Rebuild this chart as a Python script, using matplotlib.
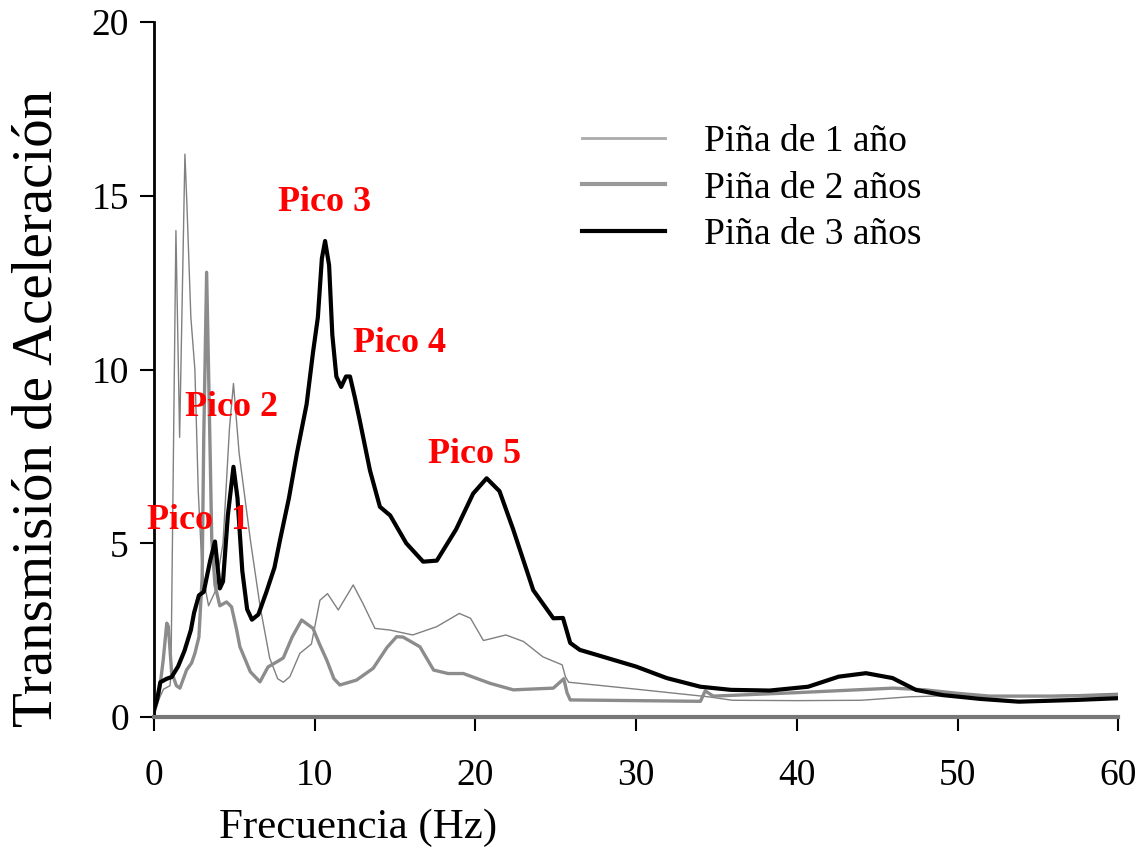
import matplotlib
matplotlib.use("Agg")
import matplotlib.pyplot as plt

plt.rcParams['font.family'] = ['Liberation Serif', 'DejaVu Serif']

# Piña de 1 año (thin line)
f1 = [0, 0.3, 0.6, 1.0, 1.06, 1.37, 1.6, 1.93, 2.05, 2.3, 2.55, 2.76, 3.0, 3.4,
      3.8, 4.3, 4.7, 4.95, 5.3, 6.0, 6.6, 7.2, 7.7, 8.05, 8.46, 9.08, 9.8, 10.33,
      10.8, 11.47, 12.4, 13.0, 13.75, 14.7, 16.1, 17.6, 19.0, 19.7, 20.5, 21.9,
      23.0, 24.2, 25.4, 25.6, 25.8, 30, 34.5, 36, 40, 44, 47, 50, 55, 60]
v1 = [0.1, 0.5, 0.8, 0.9, 1.2, 14.0, 8.05, 16.2, 14.8, 11.5, 10.0, 6.5, 4.2, 3.2,
      3.6, 5.0, 8.3, 9.6, 7.6, 5.1, 3.2, 1.7, 1.1, 1.0, 1.16, 1.83, 2.1, 3.36,
      3.55, 3.08, 3.8, 3.27, 2.55, 2.5, 2.36, 2.6, 2.98, 2.84, 2.2, 2.36,
      2.17, 1.73, 1.5, 1.16, 1.0, 0.8, 0.58, 0.48, 0.47, 0.48, 0.58, 0.62, 0.6, 0.68]

# Piña de 2 años (medium line)
f2 = [0, 0.3, 0.58, 0.8, 0.9, 1.1, 1.4, 1.62, 2.03, 2.34, 2.55, 2.8, 3.0, 3.1,
      3.28, 3.4, 3.6, 3.8, 4.1, 4.52, 4.83, 5.15, 5.35, 6.0, 6.6, 7.1, 7.7, 8.05,
      8.6, 9.19, 9.9, 10.3, 10.75, 11.2, 11.57, 12.6, 13.64, 14.5, 15.1, 15.5,
      16.55, 17.4, 18.3, 19.25, 20.9, 22.36, 24.85, 25.5, 25.7, 25.9, 30, 34.0,
      34.3, 34.8, 40, 46, 48, 50, 52, 56, 60]
v2 = [0.1, 0.6, 1.64, 2.7, 2.6, 1.3, 0.9, 0.83, 1.35, 1.55, 1.83, 2.3, 4.0, 8.0,
      12.8, 10.0, 5.1, 3.8, 3.2, 3.31, 3.17, 2.5, 2.02, 1.3, 1.01, 1.44, 1.6, 1.7,
      2.3, 2.79, 2.55, 2.1, 1.64, 1.1, 0.92, 1.06, 1.4, 2.0, 2.31, 2.3,
      2.02, 1.35, 1.25, 1.25, 0.97, 0.78, 0.83, 1.1, 0.7, 0.49, 0.47, 0.45,
      0.75, 0.6, 0.7, 0.83, 0.78, 0.68, 0.6, 0.6, 0.62]

# Piña de 3 años (thick line)
f3 = [0, 0.2, 0.4, 0.8, 1.1, 1.5, 1.9, 2.3, 2.5, 2.8, 3.1, 3.5, 3.8, 4.1, 4.3,
      4.6, 4.95, 5.2, 5.5, 5.8, 6.1, 6.5, 7.0, 7.5, 7.85, 8.4, 8.9, 9.5, 9.9,
      10.2, 10.45, 10.65, 10.9, 11.1, 11.35, 11.65, 11.95, 12.2, 12.5, 12.8,
      13.44, 14.06, 14.7, 15.7, 16.75, 17.6, 18.8, 19.86, 20.7, 21.5, 22.35,
      23.6, 24.85, 25.45, 25.9, 26.5, 27.6, 30.0, 31.9, 34.0, 35.9, 38.3, 40.7,
      42.6, 44.3, 45.95, 47.4, 49.06, 51.4, 53.8, 57.4, 60]
v3 = [0.2, 0.5, 1.0, 1.1, 1.15, 1.45, 1.9, 2.5, 3.0, 3.5, 3.6, 4.5, 5.05, 3.7,
      3.9, 5.8, 7.2, 6.3, 4.2, 3.1, 2.8, 2.95, 3.6, 4.3, 5.1, 6.3, 7.6, 9.0, 10.5,
      11.5, 13.2, 13.7, 13.0, 11.0, 9.8, 9.5, 9.8, 9.8, 9.2, 8.55,
      7.1, 6.05, 5.8, 5.0, 4.47, 4.5, 5.4, 6.43, 6.87, 6.5, 5.4,
      3.65, 2.84, 2.85, 2.13, 1.93, 1.78, 1.45, 1.12, 0.87, 0.78, 0.76, 0.87,
      1.16, 1.26, 1.12, 0.78, 0.63, 0.52, 0.44, 0.49, 0.54]

peak_labels = ["Pico  1", "Pico 2", "Pico 3", "Pico 4", "Pico 5"]
peak_x = [2.75, 4.8, 10.6, 15.3, 19.95]
peak_y = [5.65, 8.9, 14.8, 10.75, 7.55]

fig = plt.figure(figsize=(11.4, 8.52), dpi=100)
ax = fig.add_axes([0.135, 0.1585, 0.846, 0.8155])

ax.plot(f1, v1, color='#808080', lw=1.0, label='Piña de 1 año')
ax.plot(f2, v2, color='#8c8c8c', lw=2.4, label='Piña de 2 años')
ax.plot(f3, v3, color='black', lw=3.0, label='Piña de 3 años')

for lab, x, y in zip(peak_labels, peak_x, peak_y):
    ax.text(x, y, lab, color='red', fontsize=26, fontweight='bold',
            ha='center', va='center')

ax.set_xlim(0, 60)
ax.set_ylim(0, 20)
ax.set_xticks(range(0, 61, 10))
ax.set_yticks(range(0, 21, 5))

ax.spines['top'].set_visible(False)
ax.spines['right'].set_visible(False)
ax.spines['left'].set_linewidth(2)
ax.spines['bottom'].set_linewidth(3)
ax.spines['bottom'].set_color('#777777')
ax.tick_params(axis='both', direction='out', length=10, width=1.5,
               labelsize=27, colors='black')
ax.tick_params(axis='x', pad=20)
ax.tick_params(axis='y', pad=8)

leg = ax.legend(loc='upper left', bbox_to_anchor=(0.444, 0.852), frameon=False,
                fontsize=27, handlelength=2.2, handletextpad=1.05,
                labelspacing=0.31, borderpad=0, borderaxespad=0)
leg.get_lines()[0].set_color('#aaaaaa')
leg.get_lines()[0].set_linewidth(2)
leg.get_lines()[1].set_color('#999999')
leg.get_lines()[1].set_linewidth(3)

fig.text(0.314, 0.028, 'Frecuencia (Hz)', fontsize=31, ha='center', va='center')
fig.text(0.033, 0.521, 'Transmisión de Aceleración', fontsize=41,
         rotation=90, ha='center', va='center')

fig.savefig('out.png', dpi=100)
